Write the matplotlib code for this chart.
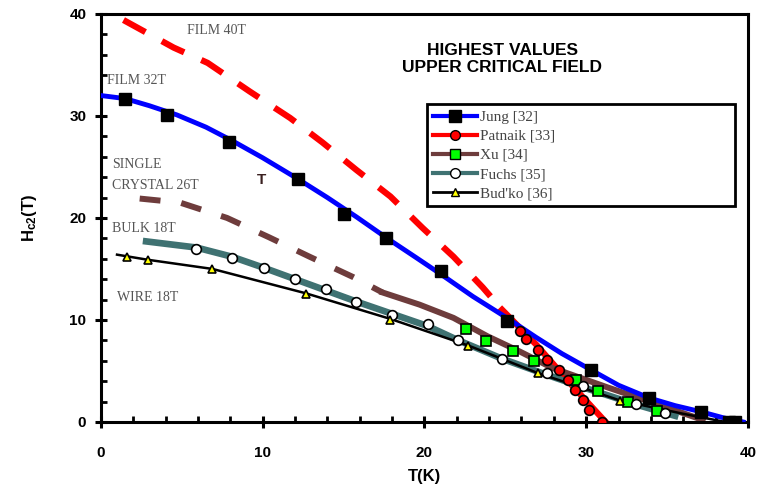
import numpy as np
import matplotlib.pyplot as plt
from matplotlib.lines import Line2D
from matplotlib.ticker import MultipleLocator

plt.rcParams['mathtext.fontset'] = 'custom'
plt.rcParams['mathtext.bf'] = 'Liberation Sans:bold'
plt.rcParams['mathtext.rm'] = 'Liberation Sans'

# Jung [32] - film, blue fit + black squares
jung_T = [1.5, 4.1, 7.9, 12.2, 15.0, 17.6, 21.0, 25.1, 30.3, 33.9, 37.1, 38.8, 39.2]
jung_H = [31.7, 30.1, 27.4, 23.8, 20.4, 18.0, 14.8, 9.9, 5.1, 2.35, 1.0, 0.0, 0.0]
jung_fit_T = [0, 1.5, 3.0, 4.7, 6.5, 8.2, 10.0, 12.1, 14.0, 15.8, 17.7, 19.5, 21.0, 23.0,
              25.2, 26.9, 28.5, 30.3, 32.0, 33.9, 35.5, 37.1, 38.5, 39.7]
jung_fit_H = [32.0, 31.7, 31.0, 30.1, 28.9, 27.5, 25.9, 23.9, 22.0, 20.1, 18.0, 16.1, 14.5, 12.3,
              10.1, 8.3, 6.7, 5.1, 3.6, 2.35, 1.6, 1.0, 0.4, 0.0]

# Patnaik [33] - film 40T, red
patnaik_T = [25.9, 26.3, 27.0, 27.6, 28.3, 28.9, 29.3, 29.8, 30.2, 31.0]
patnaik_H = [8.9, 8.1, 7.1, 6.1, 5.1, 4.1, 3.1, 2.2, 1.2, 0.0]
patnaik_fit_T = [1.4, 4.5, 6.6, 9.2, 11.7, 13.7, 15.8, 17.9, 19.9, 21.8, 23.6, 24.8, 26.9, 29.0, 31.2]
patnaik_fit_H = [39.4, 36.7, 35.2, 32.4, 29.8, 27.4, 24.7, 22.1, 19.0, 16.2, 13.2, 11.0, 7.6, 3.8, 0.0]

# Xu [34] - single crystal, brown fit + green squares
xu_T = [22.6, 23.8, 25.5, 26.8, 29.4, 30.7, 32.6, 34.4]
xu_H = [9.1, 7.9, 7.0, 6.0, 4.1, 3.0, 2.0, 1.1]
xu_fit_T = [2.4, 4.9, 7.8, 10.4, 12.9, 15.6, 17.4, 19.7, 21.8, 23.9, 25.9, 27.9, 31.3, 34.1, 37.2]
xu_fit_H = [21.9, 21.5, 20.0, 18.1, 16.2, 14.2, 12.7, 11.5, 10.2, 8.4, 6.9, 5.3, 3.4, 1.9, 0.2]

# Fuchs [35] - bulk, teal fit + white circles
fuchs_T = [5.9, 8.1, 10.1, 12.0, 13.9, 15.8, 18.0, 20.2, 22.1, 24.8, 27.6, 29.8, 33.1, 34.9]
fuchs_H = [17.0, 16.1, 15.1, 14.0, 13.0, 11.8, 10.5, 9.6, 8.0, 6.2, 4.8, 3.5, 1.8, 0.9]
fuchs_fit_T = [2.8, 5.9, 8.1, 10.1, 12.0, 13.9, 15.8, 18.0, 20.2, 22.1, 24.8, 27.6, 29.8, 33.1, 35.5]
fuchs_fit_H = [17.7, 17.1, 16.2, 15.1, 14.0, 12.9, 11.8, 10.6, 9.4, 8.0, 6.2, 4.6, 3.4, 1.7, 0.6]

# Bud'ko [36] - wire, black fit + yellow triangles
budko_T = [1.6, 2.9, 6.9, 12.7, 17.9, 22.7, 27.0, 32.1, 38.6]
budko_H = [16.2, 15.9, 15.0, 12.5, 10.0, 7.4, 4.8, 2.1, 0.0]
budko_fit_T = [1.0, 2.9, 6.9, 12.7, 17.9, 22.7, 27.0, 32.1, 36.0, 38.6]
budko_fit_H = [16.4, 15.9, 15.0, 12.6, 10.1, 7.5, 4.8, 2.1, 0.8, 0.0]

blue = '#0000ff'
red = '#ff0000'
brown = '#6e3c3c'
teal = '#3f7272'

fig = plt.figure(figsize=(7.64, 4.97), dpi=100)
ax = fig.add_axes([0.132, 0.151, 0.847, 0.821])

# fit curves
ax.plot(patnaik_fit_T[:12], patnaik_fit_H[:12], color=red, lw=4.5, dashes=(4, 3), zorder=2)
ax.plot(patnaik_fit_T[11:], patnaik_fit_H[11:], color=red, lw=4.5, zorder=2)
ax.plot(xu_fit_T[:7], xu_fit_H[:7], color=brown, lw=4.3, dashes=(3.5, 3.5), zorder=2)
ax.plot(xu_fit_T[6:], xu_fit_H[6:], color=brown, lw=4.3, zorder=2)
ax.plot(jung_fit_T, jung_fit_H, color=blue, lw=3.5, zorder=3)
ax.plot(fuchs_fit_T, fuchs_fit_H, color=teal, lw=4.8, zorder=2)
ax.plot(budko_fit_T, budko_fit_H, color='black', lw=1.8, zorder=3)

# data points
ax.plot(xu_T, xu_H, 's', ms=7, mfc='#00ff00', mec='black', mew=1.2, zorder=5)
ax.plot(fuchs_T, fuchs_H, 'o', ms=7, mfc='white', mec='black', mew=1.2, zorder=5)
ax.plot(budko_T, budko_H, '^', ms=6, mfc='#ffff00', mec='black', mew=1.2, zorder=6)
ax.plot(patnaik_T, patnaik_H, 'o', ms=7, mfc=red, mec='black', mew=1.2, zorder=6)
ax.plot(jung_T, jung_H, 's', ms=8, mfc='black', mec='black', zorder=6)

ax.set_xlim(0, 40)
ax.set_ylim(0, 40)
ax.xaxis.set_major_locator(MultipleLocator(10))
ax.xaxis.set_minor_locator(MultipleLocator(2))
ax.yaxis.set_major_locator(MultipleLocator(10))
ax.yaxis.set_minor_locator(MultipleLocator(2))
ax.tick_params(which='major', direction='inout', length=9, width=2.2, labelsize=11)
ax.tick_params(axis='x', which='major', pad=13)
ax.tick_params(axis='y', which='major', pad=6)
ax.tick_params(which='minor', direction='in', length=4, width=2)
for lab in ax.get_xticklabels() + ax.get_yticklabels():
    lab.set_fontfamily('Liberation Sans')
    lab.set_fontweight('bold')
for s in ax.spines.values():
    s.set_linewidth(2.2)

ax.set_xlabel('T(K)', fontfamily='Liberation Sans', fontweight='bold', fontsize=12, labelpad=6)
ax.set_ylabel(r'$\mathbf{H_{c2}(T)}$', fontsize=12, labelpad=22)

# annotations
serif = dict(fontfamily='Liberation Serif', fontsize=10, color='#555555')
ax.text(5.3, 38.4, 'FILM 40T', va='center', **serif)
ax.text(0.4, 33.5, 'FILM 32T', va='center', **serif)
ax.text(0.7, 25.2, 'SINGLE', va='center', **serif)
ax.text(0.7, 23.2, 'CRYSTAL 26T', va='center', **serif)
ax.text(0.7, 19.0, 'BULK 18T', va='center', **serif)
ax.text(1.0, 12.2, 'WIRE 18T', va='center', **serif)
ax.text(9.9, 23.7, 'T', fontfamily='Liberation Sans', fontweight='bold', fontsize=11,
        color='#3a2020', ha='center', va='center')

ax.text(24.8, 35.6, 'HIGHEST VALUES\nUPPER CRITICAL FIELD', ha='center', va='center',
        fontfamily='Liberation Sans', fontweight='heavy', fontsize=12.5, linespacing=1.15)

handles = [
    Line2D([], [], color=blue, lw=3, marker='s', ms=8, mfc='black', mec='black'),
    Line2D([], [], color=red, lw=3, marker='o', ms=7, mfc=red, mec='black'),
    Line2D([], [], color=brown, lw=3, marker='s', ms=7, mfc='#00ff00', mec='black'),
    Line2D([], [], color=teal, lw=3, marker='o', ms=7, mfc='white', mec='black'),
    Line2D([], [], color='black', lw=2, marker='^', ms=6, mfc='#ffff00', mec='black'),
]
labels = ['Jung [32]', 'Patnaik [33]', 'Xu [34]', 'Fuchs [35]', "Bud'ko [36]"]
leg = ax.legend(handles, labels, loc='upper left', bbox_to_anchor=(0.504, 0.498, 0.476, 0.281),
                mode='expand', borderaxespad=0, fancybox=False, framealpha=1,
                edgecolor='black', handlelength=2.9, handletextpad=0.2, labelspacing=0.35,
                borderpad=0.4, prop={'family': 'Liberation Serif', 'size': 11})
leg.get_frame().set_linewidth(2)
for t in leg.get_texts():
    t.set_color('#444444')

plt.savefig('out.png', dpi=100)
